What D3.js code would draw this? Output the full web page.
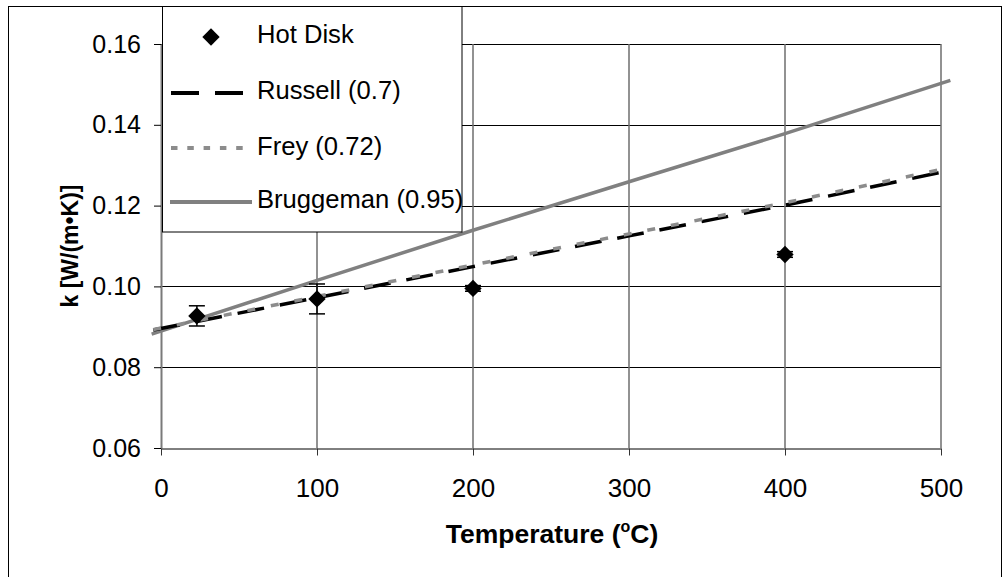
<!DOCTYPE html>
<html>
<head>
<meta charset="utf-8">
<script src="https://cdn.jsdelivr.net/npm/d3@7"></script>
<style>
  html, body { margin: 0; padding: 0; background: #fff; }
  svg { display: block; }
  text { font-family: "Liberation Sans", Arial, sans-serif; }
</style>
</head>
<body>
<svg id="chart" width="1005" height="577"></svg>
<script>
// ---- data ----
const hotDiskT   = [23, 100, 200, 400];
const hotDiskK   = [0.0927, 0.0969, 0.0995, 0.1079];
const hotDiskErr = [0.0025, 0.0037, 0.0007, 0.0007];

const russellT = [-5, 100, 200, 300, 400, 502];
const russellK = [0.0892, 0.0972, 0.1049, 0.1125, 0.1201, 0.1284];

const freyT = [-5, 100, 200, 300, 400, 503];
const freyK = [0.0893, 0.0975, 0.1053, 0.1130, 0.1207, 0.1292];

const bruggT = [-6, 100, 200, 300, 400, 506];
const bruggK = [0.0882, 0.1015, 0.1139, 0.1259, 0.1378, 0.1510];

const xTicks = [0, 100, 200, 300, 400, 500];
const yTicks = [0.06, 0.08, 0.10, 0.12, 0.14, 0.16];

const legendLabels = ["Hot Disk", "Russell (0.7)", "Frey (0.72)", "Bruggeman (0.95)"];

// ---- layout ----
const svg = d3.select("#chart");
const x = d3.scaleLinear().domain([0, 500]).range([161, 941]);
const y = d3.scaleLinear().domain([0.06, 0.16]).range([448, 44]);

svg.append("rect").attr("width", 1005).attr("height", 577).attr("fill", "#fff");
// outer chart border
svg.append("rect").attr("x", 8.5).attr("y", 6.5).attr("width", 993).attr("height", 590)
  .attr("fill", "none").attr("stroke", "#000").attr("stroke-width", 1);

// horizontal gridlines (black)
svg.append("g").selectAll("line").data(yTicks.filter(d => d > 0.06)).join("line")
  .attr("x1", x(0)).attr("x2", x(500))
  .attr("y1", d => Math.round(y(d)) + 0.5).attr("y2", d => Math.round(y(d)) + 0.5)
  .attr("stroke", "#000").attr("stroke-width", 1);
// vertical gridlines (grey)
svg.append("g").selectAll("line").data(xTicks.filter(d => d > 0)).join("line")
  .attr("x1", d => x(d)).attr("x2", d => x(d))
  .attr("y1", y(0.16)).attr("y2", y(0.06))
  .attr("stroke", "#6e6e6e").attr("stroke-width", 1.5);

// y axis
const yAxis = svg.append("g").attr("transform", `translate(${x(0)},0)`)
  .call(d3.axisLeft(y).tickValues(yTicks).tickSize(7).tickSizeOuter(0).tickPadding(13)
    .tickFormat(d3.format(".2f")));
yAxis.select(".domain").attr("stroke", "#7a7a7a").attr("stroke-width", 2);
yAxis.selectAll(".tick line").attr("stroke", "#000");
yAxis.selectAll(".tick text").attr("font-size", 25).attr("fill", "#000")
  .attr("font-family", "'Liberation Sans', Arial, sans-serif");

// x axis
const xAxis = svg.append("g").attr("transform", `translate(0,${y(0.06) + 0.5})`)
  .call(d3.axisBottom(x).tickValues(xTicks).tickSize(7).tickSizeOuter(0).tickPadding(23));
xAxis.select(".domain").attr("stroke", "#000").attr("stroke-width", 1);
xAxis.selectAll(".tick line").attr("stroke", "#333");
xAxis.selectAll(".tick text").attr("font-size", 26).attr("fill", "#000")
  .attr("font-family", "'Liberation Sans', Arial, sans-serif");

// axis titles
svg.append("text").attr("transform", "translate(78,246) rotate(-90)")
  .attr("text-anchor", "middle").attr("font-size", 23).attr("font-weight", "bold")
  .text("k [W/(m•K)]");
const xt = svg.append("text").attr("x", 552).attr("y", 543)
  .attr("text-anchor", "middle").attr("font-size", 26.5).attr("font-weight", "bold");
xt.append("tspan").text("Temperature (");
xt.append("tspan").attr("font-size", 16).attr("dy", -11).text("o");
xt.append("tspan").attr("dy", 11).text("C)");

// model lines
const line = d3.line().x(d => x(d[0])).y(d => y(d[1]));
const zip = (a, b) => a.map((v, i) => [v, b[i]]);

svg.append("path").datum(zip(bruggT, bruggK)).attr("d", line)
  .attr("fill", "none").attr("stroke", "#808080").attr("stroke-width", 3.5);
svg.append("path").datum(zip(russellT, russellK)).attr("d", line)
  .attr("fill", "none").attr("stroke", "#000").attr("stroke-width", 3.5)
  .attr("stroke-dasharray", "27,16");
svg.append("path").datum(zip(freyT, freyK)).attr("d", line)
  .attr("fill", "none").attr("stroke", "#8c8c8c").attr("stroke-width", 3.5)
  .attr("stroke-dasharray", "8,16");

// error bars
const hd = hotDiskT.map((t, i) => ({t, k: hotDiskK[i], e: hotDiskErr[i]}));
const eb = svg.append("g").attr("stroke", "#000").attr("stroke-width", 1.5);
eb.selectAll("line.v").data(hd).join("line").attr("class", "v")
  .attr("x1", d => x(d.t)).attr("x2", d => x(d.t))
  .attr("y1", d => y(d.k + d.e)).attr("y2", d => y(d.k - d.e));
eb.selectAll("line.top").data(hd).join("line").attr("class", "top")
  .attr("x1", d => x(d.t) - 8).attr("x2", d => x(d.t) + 8)
  .attr("y1", d => y(d.k + d.e)).attr("y2", d => y(d.k + d.e));
eb.selectAll("line.bot").data(hd).join("line").attr("class", "bot")
  .attr("x1", d => x(d.t) - 8).attr("x2", d => x(d.t) + 8)
  .attr("y1", d => y(d.k - d.e)).attr("y2", d => y(d.k - d.e));

// diamonds
const diamond = d3.symbol().type(d3.symbolSquare).size(150);
svg.append("g").selectAll("path").data(hd).join("path")
  .attr("d", diamond)
  .attr("transform", d => `translate(${x(d.t)},${y(d.k)}) rotate(45)`)
  .attr("fill", "#000");

// legend
const lg = svg.append("g");
lg.append("rect").attr("x", 162.5).attr("y", 6.5).attr("width", 299.5).attr("height", 225.5)
  .attr("fill", "#fff").attr("stroke", "#000").attr("stroke-width", 1);
const rowY = [37, 93, 148, 202];
const baseY = [42.7, 98.5, 155, 207.5];
lg.append("path").attr("d", diamond)
  .attr("transform", `translate(211,${rowY[0]}) rotate(45)`).attr("fill", "#000");
lg.append("line").attr("x1", 171).attr("x2", 243).attr("y1", rowY[1]).attr("y2", rowY[1])
  .attr("stroke", "#000").attr("stroke-width", 4).attr("stroke-dasharray", "28,16");
lg.append("line").attr("x1", 171).attr("x2", 252).attr("y1", rowY[2]).attr("y2", rowY[2])
  .attr("stroke", "#8c8c8c").attr("stroke-width", 4).attr("stroke-dasharray", "6.5,9.8");
lg.append("line").attr("x1", 170).attr("x2", 252).attr("y1", rowY[3]).attr("y2", rowY[3])
  .attr("stroke", "#808080").attr("stroke-width", 4);
lg.selectAll("text").data(legendLabels).join("text")
  .attr("x", 257).attr("y", (d, i) => baseY[i])
  .attr("font-size", 25.6).attr("fill", "#000").text(d => d);
</script>
</body>
</html>
